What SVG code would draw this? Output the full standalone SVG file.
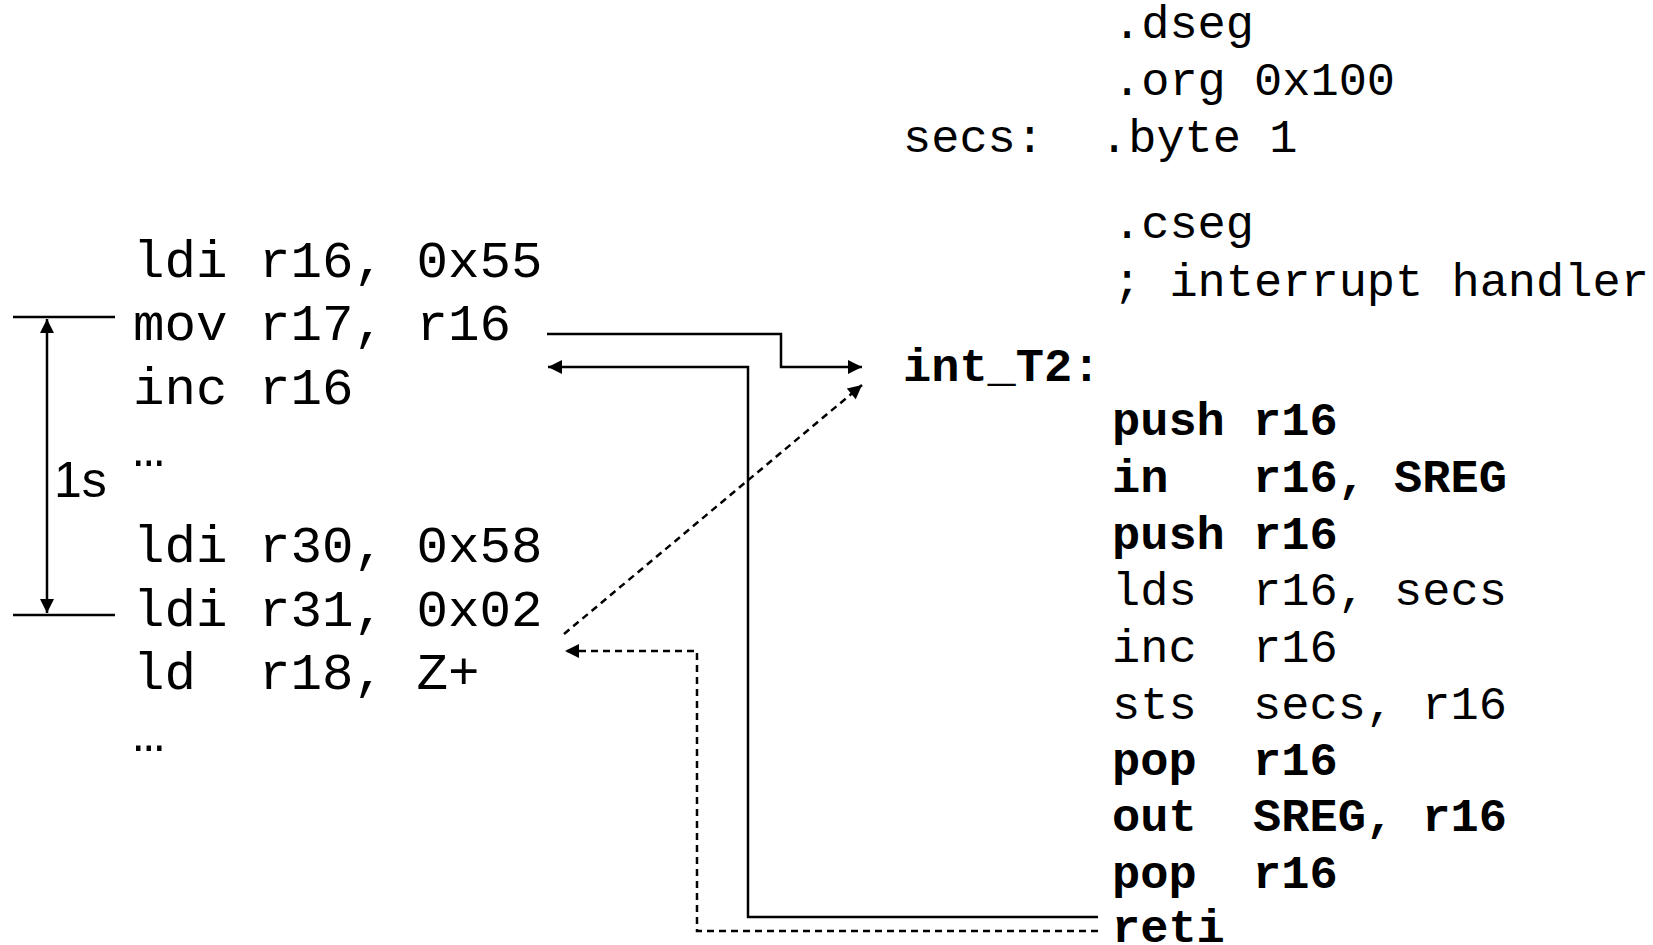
<svg xmlns="http://www.w3.org/2000/svg" width="1653" height="945" viewBox="0 0 1653 945">
<defs>
<marker id="ah" viewBox="0 0 10 10" refX="10" refY="5" markerWidth="16" markerHeight="14" markerUnits="userSpaceOnUse" orient="auto"><path d="M0,0 L10,5 L0,10 z" fill="#000"/></marker>
<marker id="ahs" viewBox="0 0 10 10" refX="0" refY="5" markerWidth="16" markerHeight="14" markerUnits="userSpaceOnUse" orient="auto"><path d="M10,0 L0,5 L10,10 z" fill="#000"/></marker>
</defs>
<style>
.code{font-family:"Liberation Mono","Courier New",monospace;fill:#000}
.L{font-size:52.5px}
.R{font-size:47px}
.b{font-weight:bold}
.s{font-family:"Liberation Sans",Arial,sans-serif;font-size:50px;fill:#000}
.ln{fill:none;stroke:#000;stroke-width:2.5}
.d{stroke-dasharray:7 5}
</style>
<rect width="1653" height="945" fill="#fff"/>
<g id="main-code" class="code L">
<text x="133" y="277">ldi r16, 0x55</text>
<text x="133" y="340">mov r17, r16</text>
<text x="133" y="404">inc r16</text>
<text x="133" y="466">…</text>
<text x="133" y="562">ldi r30, 0x58</text>
<text x="133" y="626">ldi r31, 0x02</text>
<text x="133" y="689">ld&#160; r18, Z+</text>
<text x="133" y="751">…</text>
</g>
<g id="timing">
<path class="ln" d="M13,317 H115 M13,615 H115"/>
<path class="ln" d="M47,319 V613" marker-start="url(#ahs)" marker-end="url(#ah)"/>
<text class="s" x="54" y="497">1s</text>
</g>
<g id="data-seg" class="code R">
<text x="1113" y="38">.dseg</text>
<text x="1113" y="95">.org 0x100</text>
<text x="903" y="152">secs:</text>
<text x="1100" y="152">.byte 1</text>
</g>
<g id="handler" class="code R">
<text x="1113" y="238">.cseg</text>
<text x="1113" y="296">; interrupt handler</text>
<text x="903" y="381" class="b">int_T2:</text>
<text x="1112" y="435" class="b">push r16</text>
<text x="1112" y="492" class="b">in&#160;&#160;&#160;r16, SREG</text>
<text x="1112" y="549" class="b">push r16</text>
<text x="1112" y="605">lds&#160;&#160;r16, secs</text>
<text x="1112" y="662">inc&#160;&#160;r16</text>
<text x="1112" y="719">sts&#160;&#160;secs, r16</text>
<text x="1112" y="775" class="b">pop&#160;&#160;r16</text>
<text x="1112" y="831" class="b">out&#160;&#160;SREG, r16</text>
<text x="1112" y="888" class="b">pop&#160;&#160;r16</text>
<text x="1112" y="942" class="b">reti</text>
</g>
<g id="connectors">
<path class="ln" d="M547,334 H781 V367 H862" marker-end="url(#ah)"/>
<path class="ln" d="M1098,917 H748 V367 H548" marker-end="url(#ah)"/>
<path class="ln d" d="M564,634 L862,385" marker-end="url(#ah)"/>
<path class="ln d" d="M1098,931 H697 V651 H565" marker-end="url(#ah)"/>
</g>
</svg>
